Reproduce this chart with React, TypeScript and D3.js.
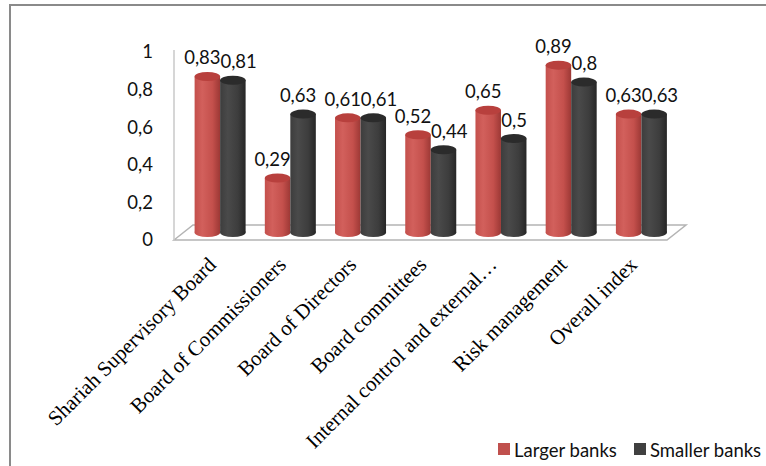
import React from "react";
import * as d3 from "d3";

const categories = [
  "Shariah Supervisory Board",
  "Board of Commissioners",
  "Board of Directors",
  "Board committees",
  "Internal control and external…",
  "Risk management",
  "Overall index",
];
const largerBanks = [0.83, 0.29, 0.61, 0.52, 0.65, 0.89, 0.63];
const smallerBanks = [0.81, 0.63, 0.61, 0.44, 0.5, 0.8, 0.63];
const seriesNames = ["Larger banks", "Smaller banks"];
const yTicks = [0, 0.2, 0.4, 0.6, 0.8, 1];

const W = 766;
const H = 466;
const fmt = (v: number) => String(v).replace(".", ",");

export default function App() {
  // 3D-ish geometry
  const frontLeft = 174;
  const frontRight = 667;
  const depthDx = 19;
  const depthDy = -15;
  const yFront = d3.scaleLinear().domain([0, 1]).range([240, 52]);
  const midDy = depthDy / 2;
  const x0 = d3
    .scaleBand<string>()
    .domain(categories)
    .range([frontLeft + depthDx / 2 + 1.5, frontRight + depthDx / 2]);
  const barW = 25.5;
  const ry = 4.5;
  const ySeries = (v: number) => yFront(v) + midDy;

  const sans = "Lato, 'Open Sans', sans-serif";
  const serif = "'Liberation Serif', 'Times New Roman', serif";
  const labelSize = 18.5;
  const charW = (s: string) =>
    s.split("").reduce((a, c) => a + (c === "," ? 0.22 : 0.58), 0) * labelSize;

  const colors = [
    { dark: "#9c3835", mid: "#d2605c", light: "#c4504c", top: "#b8403d" },
    { dark: "#262626", mid: "#4a4a4a", light: "#3d3d3d", top: "#2b2b2b" },
  ];

  const bars: JSX.Element[] = [];
  const labels: JSX.Element[] = [];
  categories.forEach((c, i) => {
    const center = (x0(c) as number) + x0.bandwidth() / 2;
    const vals = [largerBanks[i], smallerBanks[i]];
    let redRight = -Infinity;
    let redY = 0;
    vals.forEach((v, s) => {
      const bx = s === 0 ? center - barW : center;
      const cx = bx + barW / 2;
      const yTop = ySeries(v);
      const yBase = ySeries(0);
      bars.push(
        <g key={`b${i}-${s}`}>
          <ellipse cx={cx} cy={yBase} rx={barW / 2} ry={ry} fill={`url(#grad${s})`} />
          <rect x={bx} y={yTop} width={barW} height={yBase - yTop} fill={`url(#grad${s})`} />
          <ellipse cx={cx} cy={yTop} rx={barW / 2} ry={ry} fill={colors[s].top} />
        </g>
      );
      const txt = fmt(v);
      const tw = charW(txt);
      let lx = cx - 5;
      const ly = yTop - 12;
      if (s === 0) {
        redRight = lx + tw / 2;
        redY = ly;
      } else if (Math.abs(ly - redY) < 30 && lx - tw / 2 < redRight) {
        lx = redRight + tw / 2;
      }
      labels.push(
        <text
          key={`l${i}-${s}`}
          x={lx}
          y={ly}
          textAnchor="middle"
          fontFamily={sans}
          fontSize={labelSize}
          fill="#111"
        >
          {txt}
        </text>
      );
    });
  });

  const floorPts = [
    [frontLeft, yFront(0)],
    [frontLeft + depthDx, yFront(0) + depthDy],
    [frontRight + depthDx, yFront(0) + depthDy],
    [frontRight, yFront(0)],
  ];

  return (
    <svg
      width={W}
      height={H}
      style={{ position: "absolute", left: 0, top: 0, background: "#fff" }}
    >
      <defs>
        {colors.map((c, s) => (
          <linearGradient key={s} id={`grad${s}`} x1="0" x2="1" y1="0" y2="0">
            <stop offset="0%" stopColor={c.light} />
            <stop offset="30%" stopColor={c.mid} />
            <stop offset="70%" stopColor={c.light} />
            <stop offset="100%" stopColor={c.dark} />
          </linearGradient>
        ))}
      </defs>
      <rect x={0} y={0} width={W} height={H} fill="#fff" />
      <rect x={10} y={5} width={W + 100} height={H + 100} fill="none" stroke="#8a8a8a" strokeWidth={2} />

      {/* floor */}
      <polygon
        points={floorPts.map((p) => p.join(",")).join(" ")}
        fill="none"
        stroke="#b4b4b4"
        strokeWidth={1.5}
      />
      {/* vertical axis line */}
      <line x1={frontLeft} x2={frontLeft} y1={yFront(1) - 2} y2={yFront(0)} stroke="#c8c8c8" strokeWidth={1.5} />

      {yTicks.map((t) => (
        <text
          key={t}
          x={153}
          y={yFront(t)}
          dy="0.35em"
          textAnchor="end"
          fontFamily={sans}
          fontSize={18.5}
          fill="#111"
        >
          {fmt(t)}
        </text>
      ))}

      {bars}
      {labels}

      {categories.map((c) => {
        const center = (x0(c) as number) + x0.bandwidth() / 2;
        const ax = center - 3;
        const ay = 266;
        return (
          <text
            key={c}
            x={ax}
            y={ay}
            transform={`rotate(-45 ${ax} ${ay})`}
            textAnchor="end"
            fontFamily={serif}
            fontSize={21}
            fill="#000"
          >
            {c}
          </text>
        );
      })}

      {/* legend */}
      {seriesNames.map((n, s) => {
        const lx = s === 0 ? 498 : 634;
        return (
          <g key={n}>
            <rect x={lx} y={443} width={12} height={12} fill={s === 0 ? "#c0504d" : "#404040"} />
            <text x={lx + 16} y={456.5} fontFamily={sans} fontSize={18.5} fill="#111">
              {n}
            </text>
          </g>
        );
      })}
    </svg>
  );
}
